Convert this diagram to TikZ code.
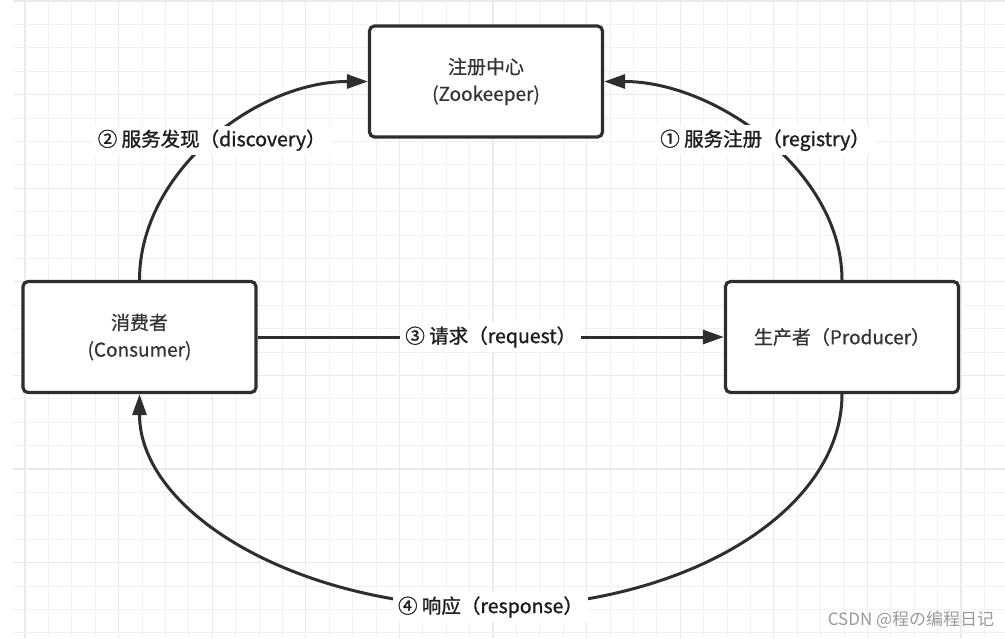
\documentclass[tikz,border=0pt]{standalone}
\usepackage{fontspec}
\setmainfont{Noto Sans CJK SC}
\newfontfamily\lblfont[FakeBold=1.2]{Noto Sans CJK SC}
\newfontfamily\boxfont[FakeBold=0.5]{Noto Sans CJK SC}
\usetikzlibrary{arrows.meta}
\definecolor{ln}{HTML}{2E2E2E}
\definecolor{txt}{HTML}{333333}
\definecolor{lbltxt}{HTML}{1E1E1E}
\definecolor{gridminor}{HTML}{F1F1F1}
\definecolor{gridmajor}{HTML}{EAEAEA}
\definecolor{wm}{HTML}{9A9A9A}
\tikzset{
  box/.style={draw=ln, line width=3.2pt, rounded corners=5pt, fill=white,
    minimum width=233pt, minimum height=111pt, align=center, text=txt,
    font=\boxfont\fontsize{19}{27}\selectfont},
  conn/.style={draw=ln, line width=3pt, -{Triangle[length=21pt,width=14pt]}},
  lbl/.style={fill=white, inner xsep=5pt, inner ysep=4pt, text=lbltxt,
    font=\lblfont\fontsize{19.5}{23}\selectfont},
  gminor/.style={draw=gridminor, line width=1pt},
  gmajor/.style={draw=gridmajor, line width=1.2pt},
}
\begin{document}
\begin{tikzpicture}[x=1pt,y=-1pt]
\useasboundingbox (0,0) rectangle (1005,638);
\fill[white] (0,0) rectangle (1005,638);
% grid
\foreach \i in {0,...,41} {
  \pgfmathtruncatemacro{\m}{mod(\i,4)}
  \ifnum\m=0
    \draw[gmajor] ({25+23.4*\i},0) -- ({25+23.4*\i},638);
  \else
    \draw[gminor] ({25+23.4*\i},0) -- ({25+23.4*\i},638);
  \fi
}
\foreach \j in {0,...,27} {
  \pgfmathtruncatemacro{\m}{mod(\j,4)}
  \ifnum\m=0
    \draw[gmajor] (13,{1+23.4*\j}) -- (1005,{1+23.4*\j});
  \else
    \draw[gminor] (13,{1+23.4*\j}) -- (1005,{1+23.4*\j});
  \fi
}
% boxes
\node[box] (zk) at (486,81.5) {注册中心\\(Zookeeper)};
\node[box] (consumer) at (139.5,337) {消费者\\(Consumer)};
\node[box] (producer) at (842,337) {生产者（Producer）};
% connectors
\draw[conn] (consumer.north) .. controls +(0,-108) and +(-112,0) .. node[lbl] {② 服务发现（discovery）} (zk.west);
\draw[conn] (producer.north) .. controls +(0,-108) and +(112,0) .. node[lbl] {① 服务注册（registry）} (zk.east);
\draw[conn] (consumer.east) -- node[lbl] {③ 请求（request）} (producer.west);
\draw[conn] (producer.south) .. controls +(0,118) and +(194,0) .. (490.5,607)
  node[lbl] {④ 响应（response）}
  .. controls +(-194,0) and +(0,118) .. (consumer.south);
% watermark
\node[text=wm, font=\fontsize{17}{20}\selectfont, inner sep=0pt] (wmark) at (911,620) {CSDN @程の编程日记};
\end{tikzpicture}
\end{document}
